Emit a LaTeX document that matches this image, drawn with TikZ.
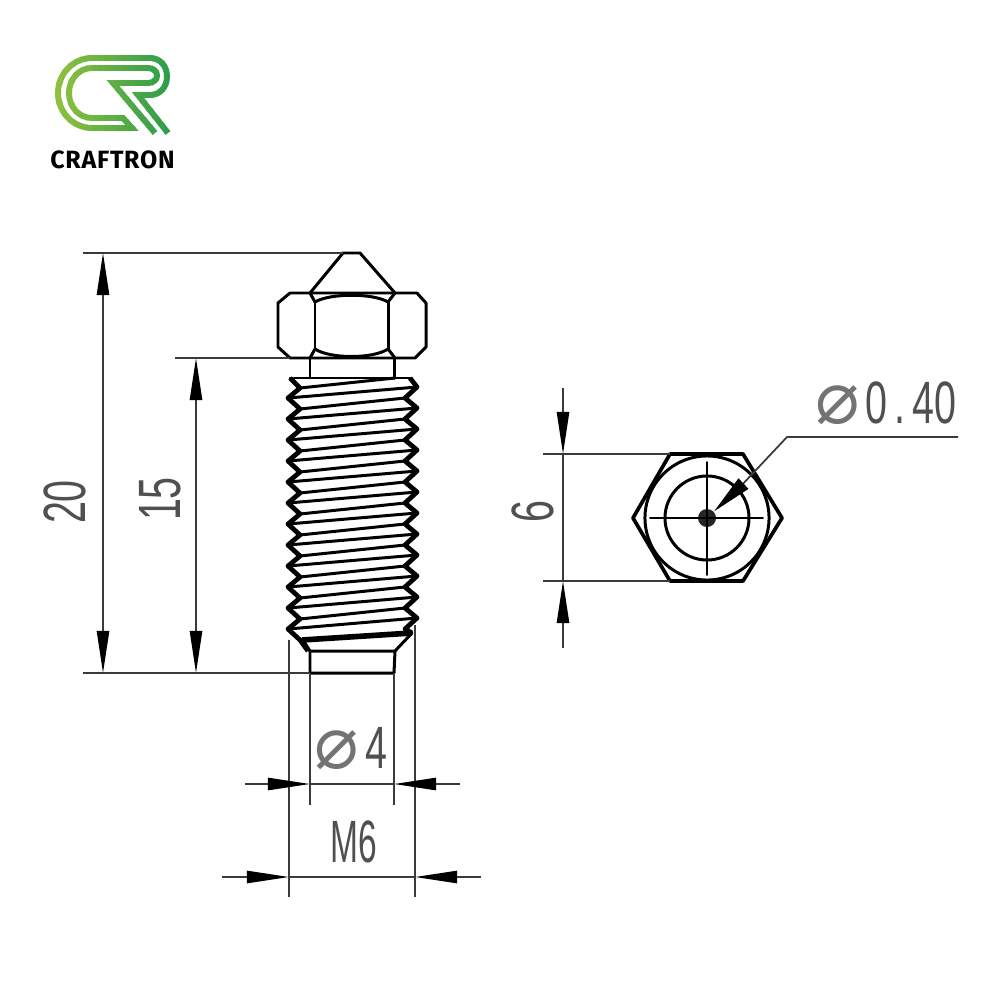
\documentclass[tikz,border=0pt]{standalone}
\usepackage{fontspec}
\usetikzlibrary{arrows.meta}
\newfontfamily\dimfont[FakeStretch=0.66]{Liberation Sans}
\newfontfamily\symfont{DejaVu Sans}
\newfontfamily\brandfont[LetterSpace=3]{Fira Sans Bold}
\definecolor{logolime}{HTML}{93C23C}
\definecolor{logogreen}{HTML}{2A9C4C}
\definecolor{dimgrey}{HTML}{3A3A3A}
\definecolor{dimtextgrey}{HTML}{505050}
\newcommand{\diam}{{\symfont\fontsize{21}{21}\selectfont\color{dimtextgrey!80}\char"2300}}
\newcommand{\logopath}{(155,133) -- (113,83) -- (148,83) .. controls (153,83) and (157,80) .. (157,75.5)
  .. controls (157,71) and (153,68) .. (148,68) -- (92,68) .. controls (79,68) and (69,79) .. (69,93)
  .. controls (69,107) and (79,118) .. (92,118) -- (123,118) -- (132,128) -- (92,128)
  .. controls (73,128) and (58,112) .. (58,93) .. controls (58,74) and (73,58) .. (92,58)
  -- (150,58) .. controls (160,58) and (167,66) .. (167,76.5) .. controls (167,87) and (160,95) .. (150,95)
  -- (138,95) -- (168,133)}
\tikzset{
  part/.style={line width=0.85pt,line join=round,line cap=round},
  thin part/.style={line width=0.55pt,line cap=round},
  screw/.style={line width=1.35pt,line join=round},
  ext/.style={line width=0.5pt,dimgrey},
  dimtip/.tip={Triangle[length=12pt,width=3.5pt,black]},
  dim/.style={ext,dimtip-dimtip},
  tip/.style={ext,-dimtip},
  dimtext/.style={inner sep=0,text=dimtextgrey,font=\dimfont\fontsize{17}{17}\selectfont}
}

\begin{document}
\begin{tikzpicture}[x=0.01cm,y=-0.01cm]
\useasboundingbox (0,0) rectangle (1000,1000);

% logo
\foreach \s in {50,56,...,170} {
  \pgfmathsetmacro{\m}{100-(\s-50)/1.2}
  \begin{scope}
    \clip (\s,50) rectangle (\s+7,140);
    \draw[line width=1.7pt,color=logolime!\m!logogreen] \logopath;
  \end{scope}
}
\node[inner sep=0,font=\brandfont\fontsize{7.1}{8}\selectfont] (brand) at (112.5,159.5) {CRAFTRON};

% side view
\coordinate (tipl) at (343,253);
\coordinate (tipr) at (360,253);
\coordinate (tipbl) at (310,651);
\coordinate (tipbr) at (395,651);
\coordinate (endl) at (310,673);
\coordinate (endr) at (394,673);

\draw[part] (310,293) -- (tipl) -- (tipr) -- (395,293);
\draw[part] (290,293) -- (417,293) -- (426,303) -- (426,347) -- (415,358) -- (290,358) -- (278,347) -- (278,303) -- cycle;
\draw[part] (315,302) -- (315,349);
\draw[part] (388,302) -- (388,349);
\draw[part] (315,302) .. controls (330,293) and (373,293) .. (388,302);
\draw[part] (315,349) .. controls (330,359) and (373,359) .. (388,349);
\draw[part] (310,293) -- (315,302) (395,293) -- (388,302);
\draw[part] (310,358) -- (315,349) (395,358) -- (388,349);
\draw[part] (310,358) -- (310,378) (394,358) -- (394,378);

% thread
\draw[screw] (290,378) -- (300,388)
  \foreach \k in {0,...,11} { -- (288,{398+21*\k}) -- (300,{409+21*\k}) } -- (308,651);
\draw[screw] (410,378) -- (417,387)
  \foreach \k in {0,...,10} { -- (405,{398+21*\k}) -- (417,{408+21*\k}) } -- (405,629) -- (412,633);
\draw[part] (290,378) -- (410,378);
\draw[part] (300,388) -- (395,378);
\foreach \k in {0,...,10} {
  \draw[part] (288,{398+21*\k}) -- (417,{387+21*\k});
  \draw[part] (300,{409+21*\k}) -- (405,{398+21*\k});
}
\draw[part] (288,629) -- (417,618);
\draw[line width=1.6pt] (302,640) -- (412,633);
\draw[part] (412,633) -- (tipbr) -- (tipbl) -- (303,640);
\draw[part] (tipbl) -- (endl) -- (endr) -- (tipbr);

% side dimensions
\coordinate (top20) at (83,253);
\coordinate (bot20) at (83,673);
\coordinate (top15) at (175,358);
\draw[ext] (top20) -- (tipl);
\draw[ext] (bot20) -- (endl);
\draw[ext] (top15) -- (290,358);
\draw[dim] (103,253) -- (103,673);
\draw[dim] (196,358) -- (196,673);
\node[dimtext,rotate=90] (len20) at (65,502) {20};
\node[dimtext,rotate=90] (len15) at (160,499) {15};

\coordinate (m6l) at (289,640);
\coordinate (m6r) at (415,625);
\coordinate (m6lb) at (289,897);
\coordinate (m6rb) at (415,897);
\coordinate (d4lb) at (310,805);
\coordinate (d4rb) at (394,805);
\draw[ext] (m6l) -- (m6lb);
\draw[ext] (m6r) -- (m6rb);
\draw[ext] (endl) -- (d4lb);
\draw[ext] (endr) -- (d4rb);

\coordinate (d4a) at (245,784);
\coordinate (d4b) at (460,784);
\coordinate (m6a) at (222,877);
\coordinate (m6b) at (481,877);
\draw[tip] (d4a) -- (310,784);
\draw[tip] (d4b) -- (394,784);
\draw[ext] (310,784) -- (394,784);
\draw[tip] (m6a) -- (289,877);
\draw[tip] (m6b) -- (415,877);
\draw[ext] (289,877) -- (415,877);
\node[dimtext] (d4) at (351,749) {\diam\hspace{2pt}4};
\node[dimtext] (m6) at (354,842) {\scalebox{.85}[1]{M6}};

% front view
\coordinate (c) at (707,518);
\node[draw,circle,part,minimum size=1.24cm,inner sep=0] (rimo) at (c) {};
\node[draw,circle,part,minimum size=0.84cm,inner sep=0] (rimi) at (c) {};
\node[fill=black!85,circle,minimum size=0.18cm,inner sep=0] (hole) at (c) {};
\draw[line width=1.05pt,line join=round] (670,454) -- (743,454) -- (782,518) -- (743,581) -- (670,581) -- (633,518) -- cycle;
\draw[thin part] (650,518) -- (763,518);
\draw[thin part] (707,462) -- (707,575);

\coordinate (lead) at (787,437);
\coordinate (leadend) at (958,437);
\draw[ext] (leadend) -- (lead) -- (740,487);
\draw[line width=0.5pt,-{Triangle[length=11.5pt,width=4pt,black]}] (742,485) -- (hole);
\node[dimtext] (bore) at (886,403) {\diam\hspace{1.5pt}0\hspace{2pt}.\hspace{2pt}40};

\coordinate (hexa) at (543,454);
\coordinate (hexb) at (543,581);
\draw[ext] (hexa) -- (670,454);
\draw[ext] (hexb) -- (670,581);
\coordinate (d6a) at (563,388);
\coordinate (d6b) at (563,648);
\draw[tip] (d6a) -- (563,454);
\draw[tip] (d6b) -- (563,581);
\draw[ext] (563,454) -- (563,581);
\node[dimtext,rotate=90] (six) at (533,512) {6};
\end{tikzpicture}
\end{document}
